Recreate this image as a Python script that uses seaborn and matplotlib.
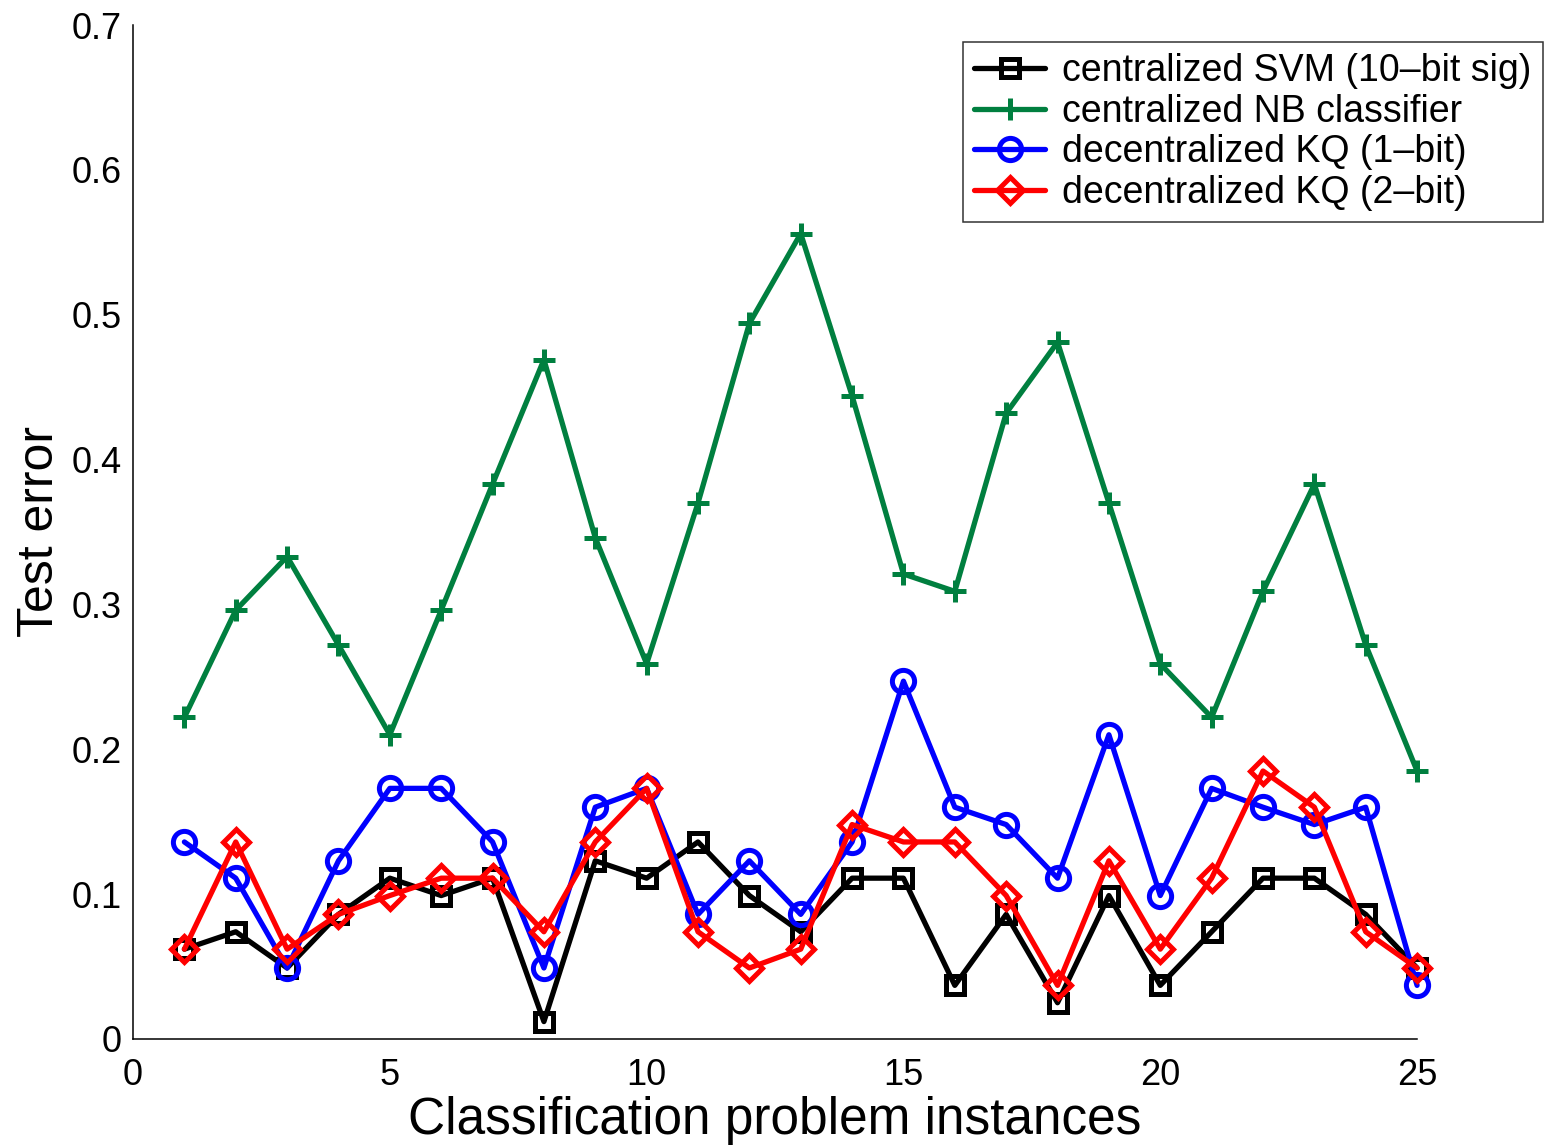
import matplotlib
matplotlib.use('Agg')
import matplotlib.pyplot as plt
import pandas as pd
import seaborn as sns

# test error per classification problem instance (1..25)
instances = list(range(1, 26))
svm_err = [0.062, 0.074, 0.049, 0.086, 0.111, 0.099, 0.111, 0.012, 0.123, 0.111,
           0.136, 0.099, 0.074, 0.111, 0.111, 0.037, 0.086, 0.025, 0.099, 0.037,
           0.074, 0.111, 0.111, 0.086, 0.049]
nb_err = [0.222, 0.296, 0.333, 0.272, 0.210, 0.296, 0.383, 0.469, 0.346, 0.259,
          0.370, 0.494, 0.556, 0.444, 0.321, 0.309, 0.432, 0.481, 0.370, 0.259,
          0.222, 0.309, 0.383, 0.272, 0.185]
kq1_err = [0.136, 0.111, 0.049, 0.123, 0.173, 0.173, 0.136, 0.049, 0.160, 0.173,
           0.086, 0.123, 0.086, 0.136, 0.247, 0.160, 0.148, 0.111, 0.210, 0.099,
           0.173, 0.160, 0.148, 0.160, 0.037]
kq2_err = [0.062, 0.136, 0.062, 0.086, 0.099, 0.111, 0.111, 0.074, 0.136, 0.173,
           0.074, 0.049, 0.062, 0.148, 0.136, 0.136, 0.099, 0.037, 0.123, 0.062,
           0.111, 0.185, 0.160, 0.074, 0.049]

labels = ['centralized SVM (10\u2013bit sig)', 'centralized NB classifier',
          'decentralized KQ (1\u2013bit)', 'decentralized KQ (2\u2013bit)']
xticks = [0, 5, 10, 15, 20, 25]
yticks = [0, 0.1, 0.2, 0.3, 0.4, 0.5, 0.6, 0.7]
ytick_labels = ['0', '0.1', '0.2', '0.3', '0.4', '0.5', '0.6', '0.7']

sns.set_style('white')
plt.rcParams['font.family'] = ['Liberation Sans', 'DejaVu Sans']
plt.rcParams['text.color'] = 'black'
plt.rcParams['axes.labelcolor'] = 'black'

fig = plt.figure(figsize=(15.45, 11.47), dpi=100)
ax = fig.add_axes([0.0861, 0.0942, 0.8311, 0.8840])

series = [
    (svm_err, 'black', 's', 13),
    (nb_err, '#007F3F', '+', 16),
    (kq1_err, 'blue', 'o', 16),
    (kq2_err, 'red', 'D', 13),
]
for (vals, color, marker, ms), label in zip(series, labels):
    df = pd.DataFrame({'instance': instances, 'err': vals})
    sns.lineplot(data=df, x='instance', y='err', ax=ax, color=color, lw=3.8,
                 marker=marker, ms=ms, mew=3.6, mec=color, mfc='none',
                 label=label, clip_on=False)

ax.set_xlim(0, 25)
ax.set_ylim(0, 0.7)
ax.set_xticks(xticks)
ax.set_yticks(yticks)
ax.set_yticklabels(ytick_labels)
ax.tick_params(direction='in', length=9, width=1.1, labelsize=26, colors='black')
ax.tick_params(axis='x', pad=14)
ax.tick_params(axis='y', pad=8)
for s in ['top', 'right']:
    ax.spines[s].set_visible(False)
for s in ['left', 'bottom']:
    ax.spines[s].set_color('black')
    ax.spines[s].set_linewidth(1.1)

ax.set_xlabel('Classification problem instances', fontsize=37, labelpad=2)
ax.set_ylabel('Test error', fontsize=36, labelpad=6)

leg = ax.legend(loc='upper right', bbox_to_anchor=(0.9987, 0.9634),
                bbox_transform=fig.transFigure, borderaxespad=0, fontsize=27,
                frameon=True, fancybox=False, edgecolor='black',
                handlelength=1.9, handletextpad=0.45, labelspacing=0.12,
                borderpad=0.3)
leg.get_frame().set_linewidth(1.1)

fig.savefig('out.png', dpi=100)
